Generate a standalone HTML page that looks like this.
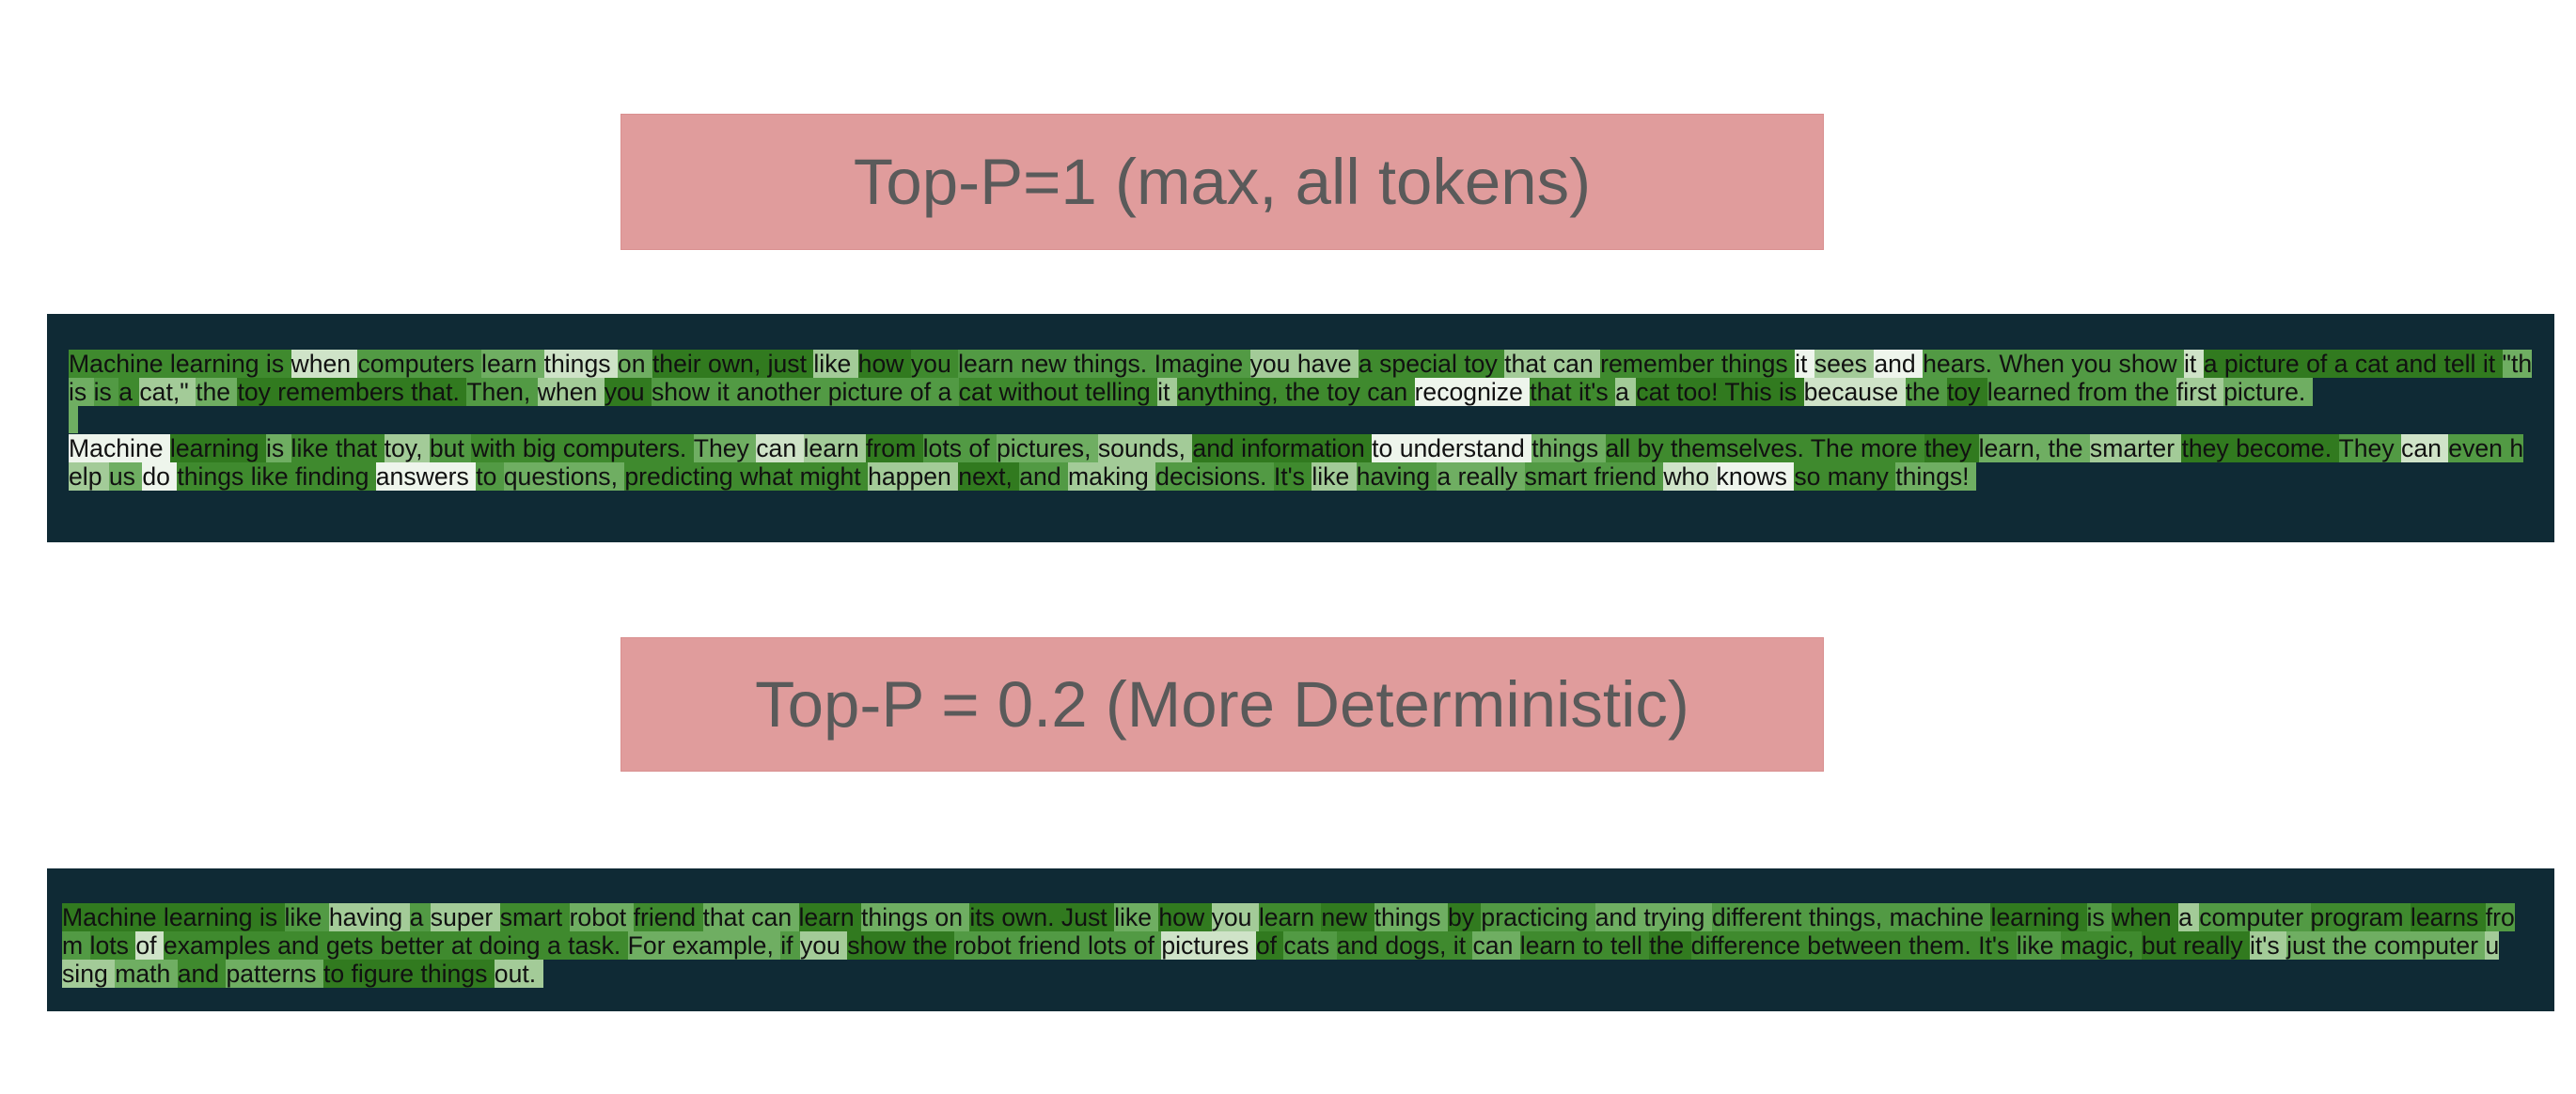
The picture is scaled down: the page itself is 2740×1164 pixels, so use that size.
<!DOCTYPE html>
<html><head><meta charset="utf-8"><style>
html,body{margin:0;padding:0;background:#fff;width:2740px;height:1164px;overflow:hidden;position:relative;font-family:"Liberation Sans",Arial,sans-serif}
.title{position:absolute;left:660px;width:1280px;background:#e09c9c;color:#5a5a5a;font-size:69px;display:flex;align-items:center;justify-content:center;border:1px solid #d99090;box-sizing:border-box}
.panel{position:absolute;left:50px;width:2667px;background:#0f2a35}
.ln{position:absolute;white-space:pre;font-size:26.6px;color:#111;height:30px;line-height:30px}
.ln span{display:inline-block;height:30px;line-height:30px;vertical-align:top}
.a{background:#317a1f}.b{background:#3f8a2e}.c{background:#529a44}.d{background:#6fae62}.e{background:#a3cb98}.f{background:#cfe3c8}.g{background:#eef5ec}
</style></head><body>
<div class="title" style="top:121px;height:145px">Top-P=1 (max, all tokens)</div>
<div class="panel" style="top:334px;height:243px"></div>
<div class="ln" style="left:73px;top:372px"><span class="b">Machine learning is </span><span class="f">when </span><span class="c">computers </span><span class="d">learn </span><span class="f">things </span><span class="d">on </span><span class="a">their own, just </span><span class="e">like </span><span class="a">how </span><span class="b">you </span><span class="c">learn new things. Imagine </span><span class="e">you have </span><span class="b">a special toy </span><span class="e">that can </span><span class="b">remember things </span><span class="g">it </span><span class="e">sees </span><span class="g">and </span><span class="c">hears. When you show </span><span class="f">it </span><span class="a">a picture of a cat and tell it </span><span class="d">"th</span></div>
<div class="ln" style="left:73px;top:401.5px"><span class="d">is </span><span class="c">is </span><span class="b">a </span><span class="e">cat," </span><span class="d">the </span><span class="a">toy remembers that. </span><span class="c">Then, </span><span class="e">when </span><span class="a">you </span><span class="c">show it another picture of a </span><span class="b">cat without telling </span><span class="e">it </span><span class="b">anything, the toy can </span><span class="g">recognize </span><span class="b">that it's </span><span class="e">a </span><span class="a">cat too! This is </span><span class="f">because </span><span class="c">the </span><span class="a">toy </span><span class="c">learned from the </span><span class="e">first </span><span class="d">picture. </span></div>
<div class="ln" style="left:73px;top:431px"><span class="d" style="width:10px"> </span></div>
<div class="ln" style="left:73px;top:462px"><span class="g">Machine </span><span class="a">learning </span><span class="d">is </span><span class="b">like that </span><span class="e">toy, </span><span class="c">but </span><span class="b">with big computers. </span><span class="d">They </span><span class="f">can </span><span class="e">learn </span><span class="a">from </span><span class="c">lots of </span><span class="d">pictures, </span><span class="e">sounds, </span><span class="a">and information </span><span class="g">to understand </span><span class="d">things </span><span class="b">all by themselves. The more </span><span class="a">they </span><span class="d">learn, the </span><span class="e">smarter </span><span class="a">they become. </span><span class="c">They </span><span class="f">can </span><span class="c">even h</span></div>
<div class="ln" style="left:73px;top:491.5px"><span class="e">elp </span><span class="d">us </span><span class="g">do </span><span class="b">things like finding </span><span class="g">answers </span><span class="c">to </span><span class="d">questions, </span><span class="b">predicting what might </span><span class="e">happen </span><span class="a">next, </span><span class="c">and </span><span class="e">making </span><span class="c">decisions. </span><span class="b">It's </span><span class="e">like </span><span class="c">having </span><span class="d">a really </span><span class="c">smart friend </span><span class="f">who </span><span class="g">knows </span><span class="b">so many </span><span class="d">things! </span></div>

<div class="title" style="top:678px;height:143px">Top-P = 0.2 (More Deterministic)</div>
<div class="panel" style="top:924px;height:152px"></div>
<div class="ln" style="left:66px;top:961px"><span class="a">Machine learning is </span><span class="c">like </span><span class="e">having </span><span class="c">a </span><span class="e">super </span><span class="b">smart </span><span class="d">robot </span><span class="b">friend </span><span class="d">that can </span><span class="a">learn </span><span class="d">things on </span><span class="a">its own. Just </span><span class="d">like </span><span class="a">how </span><span class="e">you </span><span class="b">learn </span><span class="a">new </span><span class="d">things </span><span class="a">by </span><span class="c">practicing </span><span class="d">and trying </span><span class="c">different things, machine </span><span class="a">learning </span><span class="c">is </span><span class="a">when </span><span class="e">a </span><span class="c">computer </span><span class="b">program </span><span class="a">learns </span><span class="c">fro</span></div>
<div class="ln" style="left:66px;top:991px"><span class="c">m </span><span class="b">lots </span><span class="f">of </span><span class="b">examples and gets better at doing a task. </span><span class="d">For example, </span><span class="c">if </span><span class="e">you </span><span class="a">show the </span><span class="c">robot friend lots of </span><span class="f">pictures </span><span class="a">of </span><span class="c">cats </span><span class="b">and dogs, it </span><span class="d">can </span><span class="b">learn to tell </span><span class="a">the </span><span class="b">difference between them. It's </span><span class="c">like </span><span class="b">magic, </span><span class="a">but really </span><span class="e">it's </span><span class="d">just the </span><span class="d">computer </span><span class="e">u</span></div>
<div class="ln" style="left:66px;top:1021px"><span class="e">sing </span><span class="d">math </span><span class="b">and </span><span class="d">patterns </span><span class="a">to figure things </span><span class="e">out. </span></div>
</body></html>
